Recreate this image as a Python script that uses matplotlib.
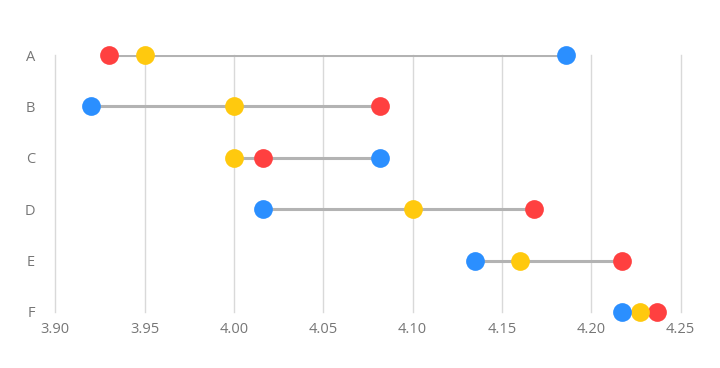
import numpy as np
import matplotlib.pyplot as plt

plt.rcParams['font.family'] = ['Open Sans', 'DejaVu Sans']

categories = ["A", "B", "C", "D", "E", "F"]
red_vals = [3.930, 4.082, 4.016, 4.168, 4.217, 4.237]
yellow_vals = [3.950, 4.000, 4.000, 4.100, 4.160, 4.227]
blue_vals = [4.186, 3.920, 4.082, 4.016, 4.135, 4.217]
xticks = [3.90, 3.95, 4.00, 4.05, 4.10, 4.15, 4.20, 4.25]

fig = plt.figure(figsize=(7.2, 3.68), dpi=100)
ax = fig.add_axes([0.0768, 0.1522, 0.8686, 0.6983])

y = np.arange(len(categories))
vals = np.array([red_vals, yellow_vals, blue_vals])
lo = vals.min(axis=0)
hi = vals.max(axis=0)

ax.hlines(y, lo, hi, color="#b3b3b3", lw=2.2, zorder=2)
ax.plot(red_vals, y, "o", color="#ff4040", ms=13.5, mec="none", zorder=3, clip_on=False)
ax.plot(yellow_vals, y, "o", color="#ffc90e", ms=13.5, mec="none", zorder=3, clip_on=False)
ax.plot(blue_vals, y, "o", color="#2b8fff", ms=13.5, mec="none", zorder=4, clip_on=False)

ax.set_xlim(3.90, 4.25)
ax.set_ylim(len(categories) - 1, 0)
ax.set_xticks(xticks)
ax.set_xticklabels([f"{t:.2f}" for t in xticks])
ax.set_yticks(y)
ax.set_yticklabels(categories)
ax.grid(axis="x", color="#d9d9d9", lw=1, zorder=1)
for gl in ax.get_xgridlines():
    gl.set_clip_on(False)
for s in ax.spines.values():
    s.set_visible(False)
ax.tick_params(length=0, colors="#767676", labelsize=10.5)
ax.tick_params(axis="x", pad=7)
ax.tick_params(axis="y", pad=14.5)

fig.savefig("out.png", dpi=100)
